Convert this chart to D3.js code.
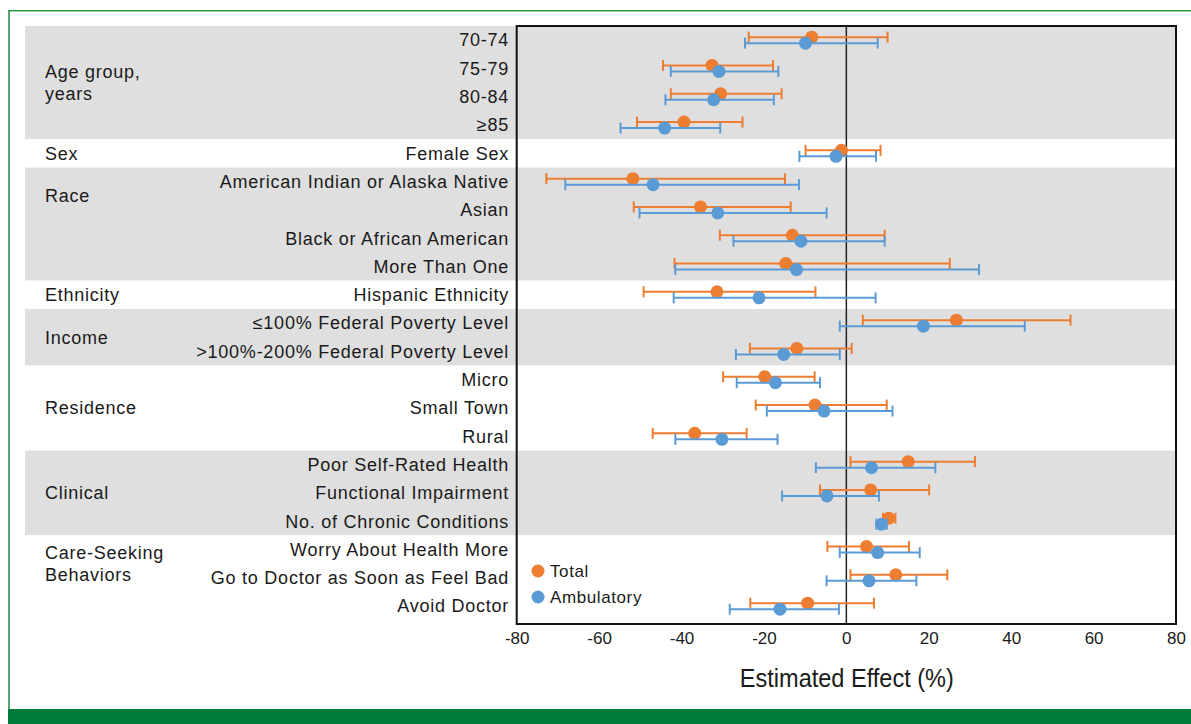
<!DOCTYPE html>
<html>
<head>
<meta charset="utf-8">
<script src="https://cdn.jsdelivr.net/npm/d3@7"></script>
<style>
  html, body { margin: 0; padding: 0; background: #fff; }
  svg { display: block; }
  text { font-family: "Liberation Sans", Arial, sans-serif; fill: #1a1a1a; }
</style>
</head>
<body>
<svg id="chart" width="1191" height="724"></svg>
<script>
// ---------------- data ----------------
const categories = [
  "70-74", "75-79", "80-84", "\u226585",
  "Female Sex",
  "American Indian or Alaska Native", "Asian", "Black or African American", "More Than One",
  "Hispanic Ethnicity",
  "\u2264100% Federal Poverty Level", ">100%-200% Federal Poverty Level",
  "Micro", "Small Town", "Rural",
  "Poor Self-Rated Health", "Functional Impairment", "No. of Chronic Conditions",
  "Worry About Health More", "Go to Doctor as Soon as Feel Bad", "Avoid Doctor"
];
const groupNames = [["Age group,", "years"], ["Sex"], ["Race"], ["Ethnicity"], ["Income"],
                    ["Residence"], ["Clinical"], ["Care-Seeking", "Behaviors"]];
const groupSizes = [4, 1, 4, 1, 2, 3, 3, 3];

const totalEst  = [-8.4, -32.6, -30.5, -39.4, -1.2, -51.8, -35.4, -13.1, -14.7, -31.4, 26.7, -12.0, -19.8, -7.6, -36.8, 15.0, 5.9, 10.3, 4.9, 12.0, -9.4];
const totalLow  = [-23.7, -44.5, -42.6, -50.8, -9.9, -72.8, -51.6, -30.7, -41.7, -49.2, 4.0, -23.4, -29.9, -22.0, -47.0, 1.0, -6.4, 8.9, -4.6, 1.0, -23.3];
const totalHigh = [10.0, -17.8, -15.7, -25.2, 8.3, -14.9, -13.5, 9.3, 25.1, -7.5, 54.4, 1.3, -7.7, 9.8, -24.2, 31.2, 20.1, 11.9, 15.2, 24.5, 6.7];

const ambEst  = [-9.9, -30.9, -32.2, -44.1, -2.5, -46.9, -31.2, -11.0, -12.1, -21.2, 18.7, -15.2, -17.2, -5.4, -30.2, 6.1, -4.7, 8.5, 7.6, 5.5, -16.1];
const ambLow  = [-24.6, -42.6, -43.9, -54.8, -11.4, -68.2, -50.2, -27.4, -41.5, -41.9, -1.6, -26.8, -26.6, -19.3, -41.5, -7.4, -15.6, 7.3, -1.6, -4.8, -28.3];
const ambHigh = [7.6, -16.5, -17.6, -30.6, 7.2, -11.5, -4.8, 9.3, 32.2, 7.1, 43.3, -1.6, -6.4, 11.2, -16.7, 21.6, 7.9, 9.8, 17.8, 17.0, -1.8];

const xTicks = [-80, -60, -40, -20, 0, 20, 40, 60, 80];
const seriesNames = ["Total", "Ambulatory"];
const seriesColors = ["#ED7D31", "#5B9BD5"];

// ---------------- layout ----------------
const svg = d3.select("#chart");
const plotL = 516.7, plotR = 1176, plotT = 26, plotB = 624;
const rowStep = 28.3;
const labelFont = 18, labelSpacing = 0.75;

const x = d3.scaleLinear().domain([-80, 80]).range([plotL, plotR]);
const y = d3.scaleBand().domain(categories).range([plotT, plotT + rowStep * categories.length]).padding(0);
const yc = c => y(c) + y.bandwidth() / 2;

// green frame
svg.append("line").attr("x1", 9).attr("x2", 1191).attr("y1", 10.7).attr("y2", 10.7)
  .attr("stroke", "#27a04c").attr("stroke-width", 1.5);
svg.append("line").attr("x1", 9).attr("x2", 9).attr("y1", 10).attr("y2", 709)
  .attr("stroke", "#1f8a44").attr("stroke-width", 1.5);
svg.append("rect").attr("x", 8).attr("y", 709).attr("width", 1191 - 8).attr("height", 15)
  .attr("fill", "#007A3A");

// group bands
let start = 0;
const groups = groupNames.map((name, i) => {
  const g = { name, start, end: start + groupSizes[i] - 1, idx: i };
  start += groupSizes[i];
  return g;
});
const bandG = svg.append("g");
groups.forEach(g => {
  const top = y(categories[g.start]);
  const bottom = g.end === categories.length - 1 ? plotB : y(categories[g.end]) + y.bandwidth();
  bandG.append("rect")
    .attr("x", 25).attr("y", top).attr("width", plotR - 25).attr("height", bottom - top)
    .attr("fill", g.idx % 2 === 0 ? "#DEDFDE" : "#FFFFFF");
});

// group labels (anchor row: center of the group, Race and Care-Seeking sit higher)
const labelAnchor = { 2: 0.5, 7: 0.5 };
groups.forEach(g => {
  const a = labelAnchor[g.idx] !== undefined ? g.start + labelAnchor[g.idx] : (g.start + g.end) / 2;
  const cy = y(categories[0]) + y.bandwidth() / 2 + a * rowStep;
  const lh = 21.6;
  const n = g.name.length;
  g.name.forEach((t, k) => {
    svg.append("text")
      .attr("x", 45).attr("y", cy + (k - (n - 1) / 2) * lh)
      .attr("dy", "0.35em")
      .attr("font-size", labelFont)
      .attr("letter-spacing", labelSpacing)
      .text(t);
  });
});

// row labels
svg.append("g").selectAll("text").data(categories).join("text")
  .attr("x", 509).attr("y", d => yc(d)).attr("dy", "0.35em")
  .attr("text-anchor", "end").attr("font-size", labelFont)
  .attr("letter-spacing", labelSpacing)
  .text(d => d);

// zero line
svg.append("line").attr("x1", x(0)).attr("x2", x(0)).attr("y1", plotT).attr("y2", plotB)
  .attr("stroke", "#222").attr("stroke-width", 1.5);

// series
const series = [
  { name: seriesNames[0], color: seriesColors[0], est: totalEst, lo: totalLow, hi: totalHigh, off: -3 },
  { name: seriesNames[1], color: seriesColors[1], est: ambEst, lo: ambLow, hi: ambHigh, off: 3 }
];
const capH = 5.5;
series.forEach(s => {
  const g = svg.append("g");
  const rows = categories.map((c, i) => ({ c, est: s.est[i], lo: s.lo[i], hi: s.hi[i] }));
  g.selectAll("line.bar").data(rows).join("line").attr("class", "bar")
    .attr("x1", d => x(d.lo)).attr("x2", d => x(d.hi))
    .attr("y1", d => yc(d.c) + s.off).attr("y2", d => yc(d.c) + s.off)
    .attr("stroke", s.color).attr("stroke-width", 2);
  g.selectAll("line.capl").data(rows).join("line").attr("class", "capl")
    .attr("x1", d => x(d.lo)).attr("x2", d => x(d.lo))
    .attr("y1", d => yc(d.c) + s.off - capH).attr("y2", d => yc(d.c) + s.off + capH)
    .attr("stroke", s.color).attr("stroke-width", 2);
  g.selectAll("line.caph").data(rows).join("line").attr("class", "caph")
    .attr("x1", d => x(d.hi)).attr("x2", d => x(d.hi))
    .attr("y1", d => yc(d.c) + s.off - capH).attr("y2", d => yc(d.c) + s.off + capH)
    .attr("stroke", s.color).attr("stroke-width", 2);
  g.selectAll("circle").data(rows).join("circle")
    .attr("cx", d => x(d.est)).attr("cy", d => yc(d.c) + s.off).attr("r", 6.5)
    .attr("fill", s.color);
});

// plot frame
svg.append("rect").attr("x", plotL).attr("y", plotT).attr("width", plotR - plotL).attr("height", plotB - plotT)
  .attr("fill", "none").attr("stroke", "#111").attr("stroke-width", 2);

// x axis
const xAxis = d3.axisBottom(x).tickValues(xTicks).tickSize(0).tickPadding(8)
  .tickFormat(d => String(d));
const ax = svg.append("g").attr("transform", `translate(0,${plotB})`).call(xAxis);
ax.select(".domain").remove();
ax.selectAll("text").attr("font-size", 17).attr("fill", "#1a1a1a")
  .style("font-family", "'Liberation Sans', Arial, sans-serif");

svg.append("text").attr("x", x(0) + 0.5).attr("y", 687)
  .attr("text-anchor", "middle").attr("font-size", 26)
  .attr("textLength", 214).attr("lengthAdjust", "spacingAndGlyphs")
  .text("Estimated Effect (%)");

// legend
const leg = svg.append("g");
series.forEach((s, i) => {
  const ly = 571 + i * 26;
  leg.append("circle").attr("cx", 538).attr("cy", ly).attr("r", 6.5).attr("fill", s.color);
  leg.append("text").attr("x", 550).attr("y", ly).attr("dy", "0.35em")
    .attr("font-size", 17).attr("letter-spacing", 0.6).text(s.name);
});
</script>
</body>
</html>
